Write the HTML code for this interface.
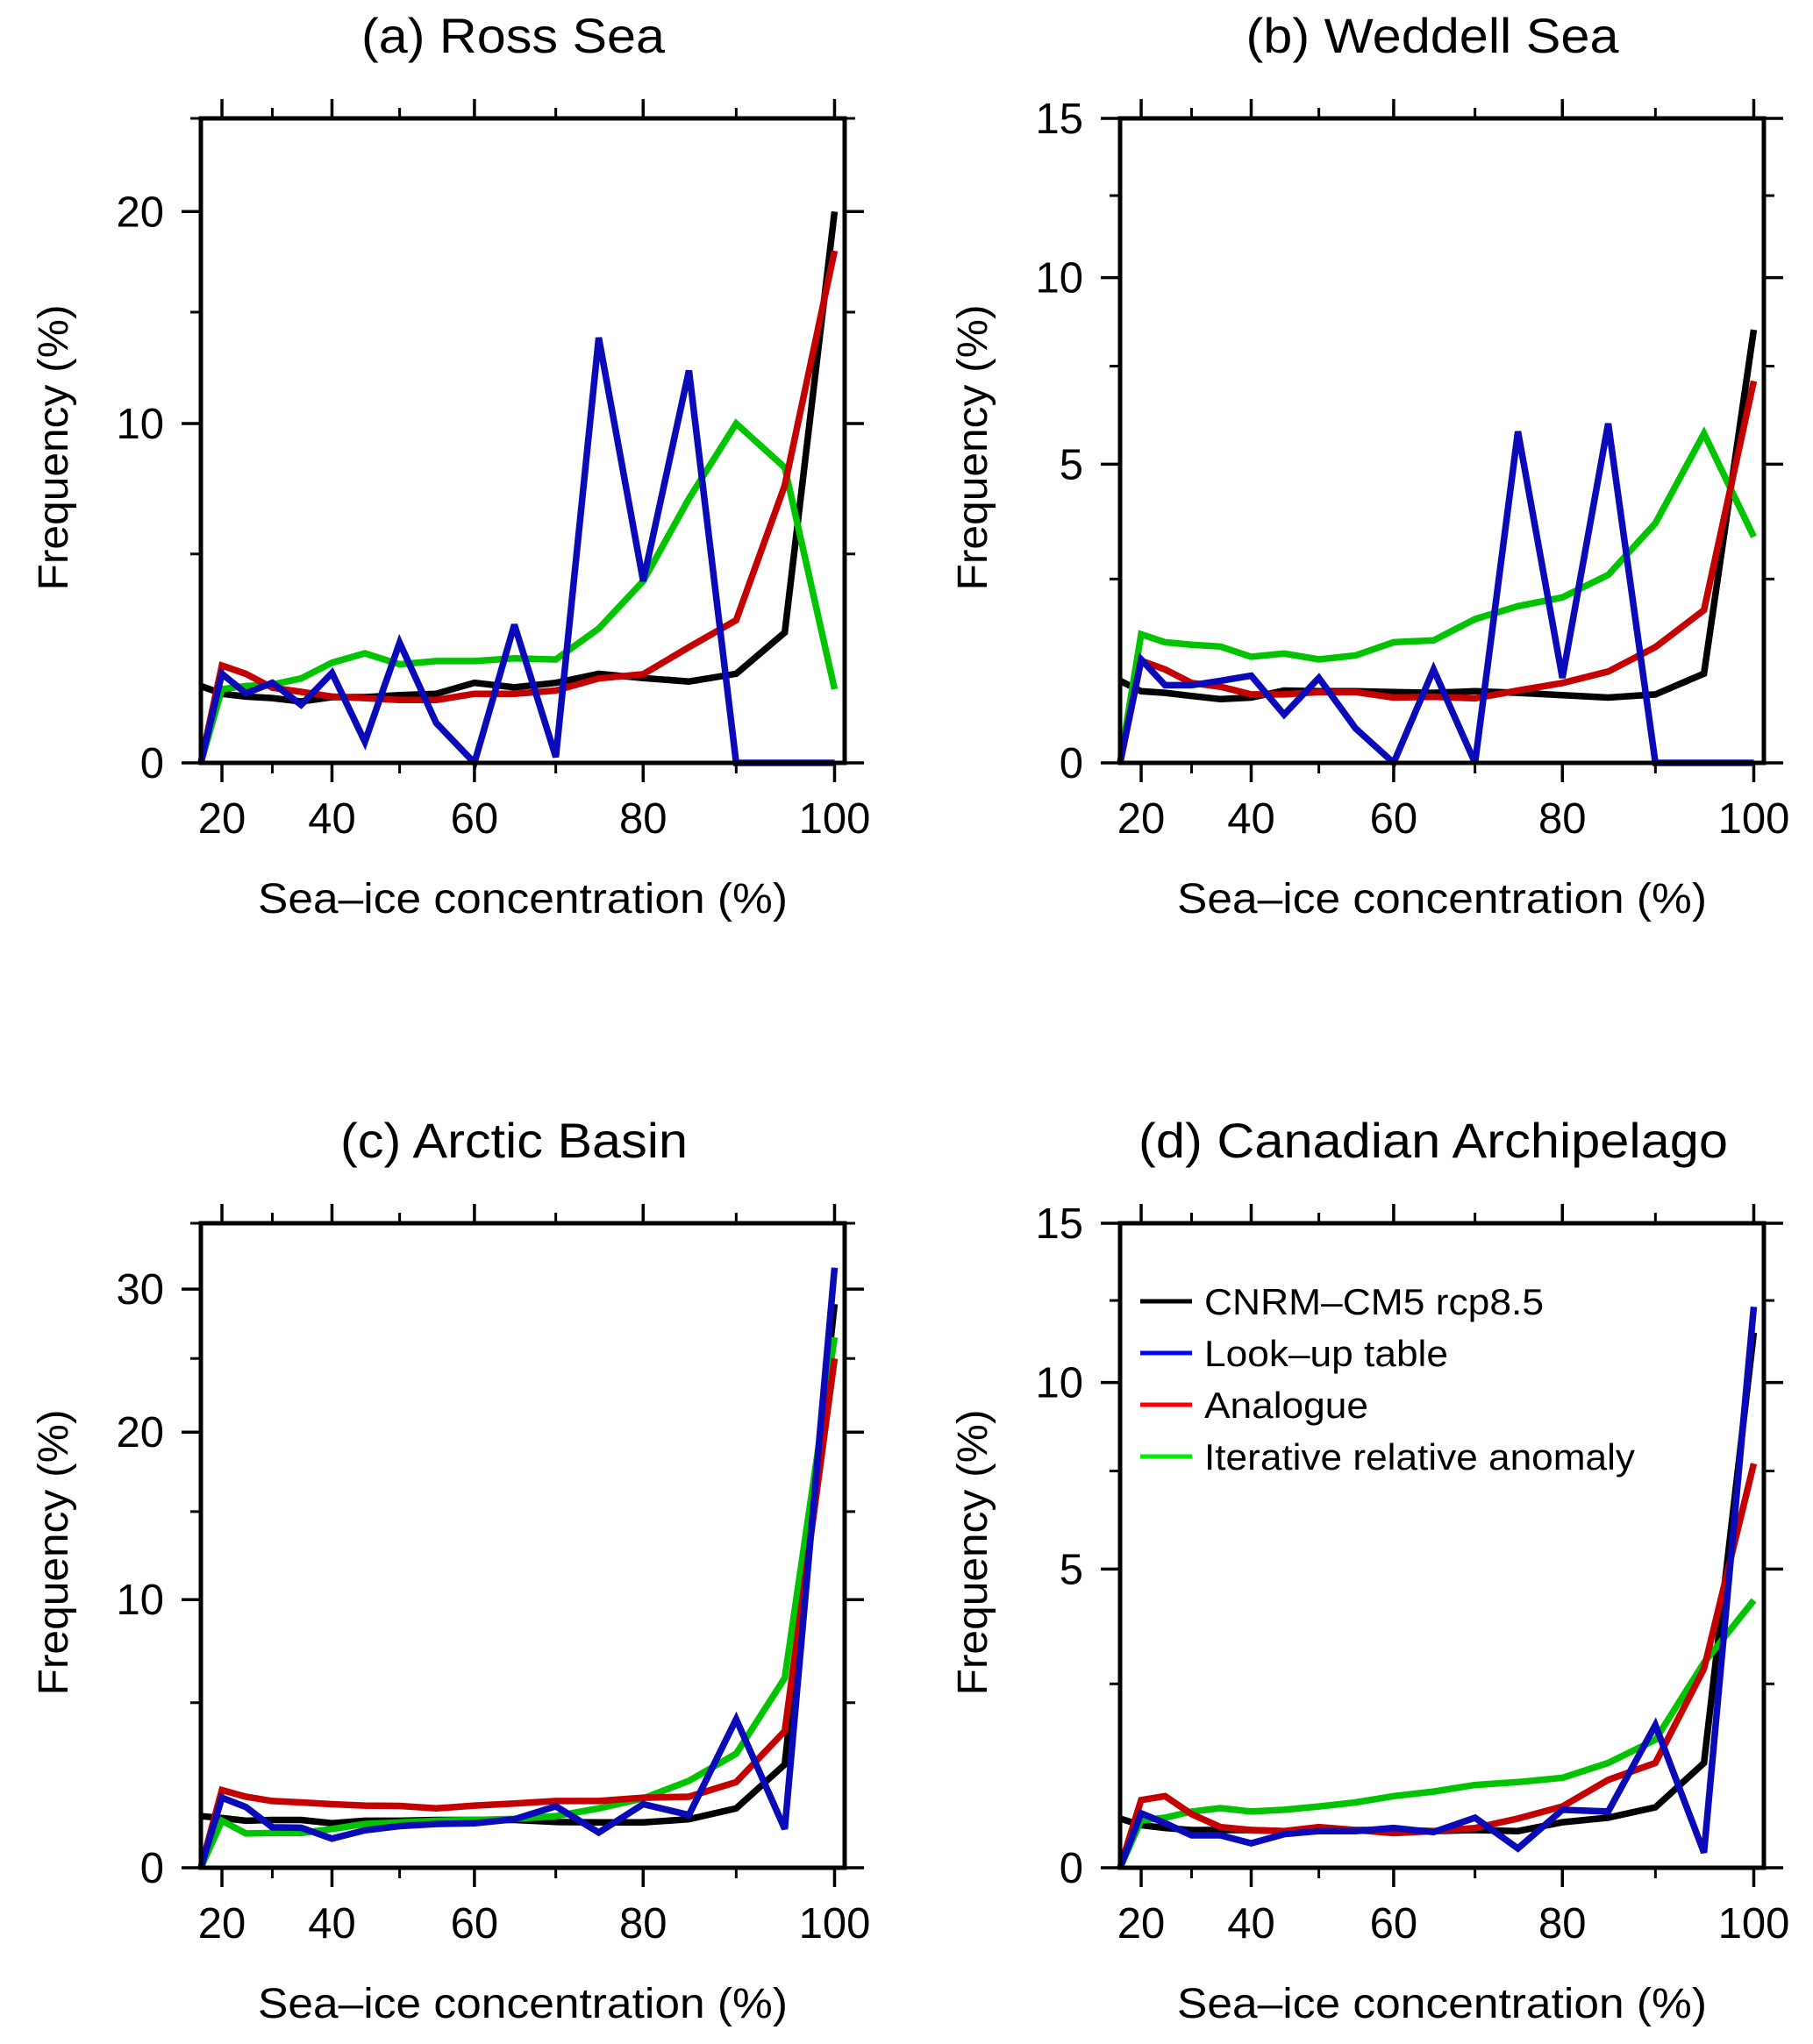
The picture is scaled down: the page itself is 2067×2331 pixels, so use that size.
<!DOCTYPE html>
<html><head><meta charset="utf-8"><style>
html,body{margin:0;padding:0;background:#fff;}
svg{display:block;font-family:"Liberation Sans",sans-serif;}
</style></head><body>
<svg id="fig" width="2067" height="2331" viewBox="0 0 2067 2331" xmlns="http://www.w3.org/2000/svg"></svg>
<script>
const xCats = [15,20,25,30,35,40,45,50,55,60,65,70,75,80,85,90,95,100];
const xTickLabels = [20,40,60,80,100];
const xMinorTicks = [30,50,70,90];

const rossBlack = [1.2,1.03,0.97,0.94,0.87,0.96,0.96,1.0,1.03,1.27,1.17,1.27,1.48,1.38,1.3,1.48,2.55,20];
const rossBlue  = [0,1.48,1.04,1.27,0.8,1.5,0.19,2.27,0.47,0,2.77,0.03,13.8,4.1,12.3,0,0,0];
const rossRed   = [0,1.68,1.48,1.16,1.07,0.97,0.94,0.9,0.9,1.03,1.03,1.1,1.37,1.47,2.15,2.9,7.5,18];
const rossGreen = [0,1.13,1.2,1.23,1.37,1.75,1.99,1.71,1.79,1.79,1.86,1.83,2.66,4.1,7.0,10,8.2,1.13];
const rossYTicks = [0,10,20];
const rossYMinor = [5,15,25];

const weddBlack = [0.79,0.65,0.63,0.59,0.55,0.57,0.66,0.65,0.65,0.64,0.63,0.65,0.63,0.6,0.57,0.61,0.89,8.5];
const weddBlue  = [0,1.1,0.73,0.73,0.79,0.86,0.37,0.83,0.23,0,0.95,0,5.8,0.83,6.0,0,0,0];
const weddRed   = [0,1.08,0.95,0.76,0.71,0.61,0.61,0.64,0.64,0.57,0.58,0.56,0.66,0.76,0.92,1.29,1.92,7.1];
const weddGreen = [0,1.5,1.37,1.33,1.3,1.14,1.19,1.1,1.16,1.37,1.4,1.76,1.99,2.15,2.58,3.65,5.75,3.36];
const weddYTicks = [0,5,10,15];
const weddYMinor = [2.5,7.5,12.5];

const arcBlack = [0.95,0.9,0.83,0.85,0.85,0.77,0.83,0.83,0.85,0.85,0.85,0.8,0.79,0.79,0.87,1.16,2.56,28.9];
const arcBlue  = [0,1.47,1.2,0.67,0.66,0.42,0.6,0.7,0.75,0.77,0.87,1.22,0.55,1.28,0.98,4.3,0.63,31.6];
const arcRed   = [0,1.7,1.5,1.37,1.33,1.28,1.24,1.23,1.16,1.24,1.3,1.37,1.37,1.47,1.5,1.96,3.82,25];
const arcGreen = [0,0.83,0.53,0.54,0.54,0.63,0.75,0.79,0.83,0.85,0.88,0.95,1.16,1.45,2.0,2.95,6.1,26.5];
const arcYTicks = [0,10,20,30];
const arcYMinor = [5,15,25,35];

const canBlack = [0.38,0.31,0.28,0.26,0.26,0.26,0.25,0.25,0.26,0.26,0.25,0.26,0.25,0.34,0.39,0.51,1.12,11.5];
const canBlue  = [0,0.44,0.33,0.21,0.21,0.14,0.22,0.25,0.25,0.28,0.24,0.39,0.1,0.48,0.46,1.74,0.07,12.3];
const canRed   = [0,0.6,0.65,0.43,0.29,0.26,0.25,0.29,0.26,0.23,0.25,0.28,0.38,0.52,0.87,1.12,2.8,7.7];
const canGreen = [0,0.36,0.39,0.46,0.5,0.46,0.48,0.52,0.57,0.65,0.71,0.8,0.84,0.9,1.12,1.49,2.92,4.27];
const canYTicks = [0,5,10,15];
const canYMinor = [2.5,7.5,12.5];

const legendLabels = ["CNRM\u2013CM5 rcp8.5","Look\u2013up table","Analogue","Iterative relative anomaly"];
const legendWidths = [387,278,187,491];

const NS="http://www.w3.org/2000/svg";
const svg=document.getElementById('fig');
function mk(tag,attrs,parent){const e=document.createElementNS(NS,tag);for(const k in attrs)e.setAttribute(k,attrs[k]);(parent||svg).appendChild(e);return e;}

const COLORS={black:"#000000",blue:"#0a0ab8",red:"#c40000",green:"#00c400"};
const LEGCOL=["#000000","#0000ff","#ff0000","#00ee00"];

function panel(cfg){
  const g=mk('g',{});
  
  
  const L=cfg.left,R=cfg.left+734,T=cfg.top,B=cfg.top+735;
  const X0=Math.pow(15,1.5),X1=Math.pow(101,1.5);
  const xs=v=>L+(Math.pow(v,1.5)-X0)/(X1-X0)*(R-L);
  const ys=v=>B-Math.pow(v,0.7)/Math.pow(cfg.ymax,0.7)*(B-T);
  const series=[["black",cfg.black],["green",cfg.green],["red",cfg.red],["blue",cfg.blue]];
  for(const [c,arr] of series){
    const pts=arr.map((v,i)=>xs(xCats[i]).toFixed(1)+","+ys(v).toFixed(1)).join(" ");
    const pl=mk('polyline',{points:pts,fill:"none",stroke:COLORS[c],"stroke-width":7.5,"stroke-linejoin":"miter","stroke-miterlimit":3},g);
    
    
  }
  const fr=mk('rect',{x:L,y:T,width:R-L,height:B-T,fill:"none",stroke:"#000","stroke-width":5},g);
  
  
  for(const t of xTickLabels){
    const x=xs(t);
    mk('line',{x1:x,y1:T,x2:x,y2:T-22,stroke:"#000","stroke-width":3.5},g);
    mk('line',{x1:x,y1:B,x2:x,y2:B+22,stroke:"#000","stroke-width":3.5},g);
    const tx=mk('text',{x:x,y:B+80,"font-size":49,"text-anchor":"middle"},g);
    tx.textContent=t;
    
    
  }
  for(const t of xMinorTicks){
    const x=xs(t);
    mk('line',{x1:x,y1:T,x2:x,y2:T-12,stroke:"#000","stroke-width":3},g);
    mk('line',{x1:x,y1:B,x2:x,y2:B+12,stroke:"#000","stroke-width":3},g);
  }
  for(const t of cfg.yTicks){
    const y=ys(t);
    mk('line',{x1:L,y1:y,x2:L-22,y2:y,stroke:"#000","stroke-width":3.5},g);
    mk('line',{x1:R,y1:y,x2:R+22,y2:y,stroke:"#000","stroke-width":3.5},g);
    const ty=mk('text',{x:L-42,y:y+17,"font-size":49,"text-anchor":"end"},g);
    ty.textContent=t;
    
    
  }
  for(const t of cfg.yMinor){
    if(t>cfg.ymax)continue;
    const y=ys(t);
    mk('line',{x1:L,y1:y,x2:L-12,y2:y,stroke:"#000","stroke-width":3},g);
    mk('line',{x1:R,y1:y,x2:R+12,y2:y,stroke:"#000","stroke-width":3},g);
  }
  const title=mk('text',{x:cfg.titleX,y:T-75,"font-size":56,"text-anchor":"middle",textLength:cfg.titleW,lengthAdjust:"spacingAndGlyphs"},g);
  title.textContent=cfg.title;
  
  
  const xt=mk('text',{x:(L+R)/2,y:B+171,"font-size":48,"text-anchor":"middle",textLength:604,lengthAdjust:"spacingAndGlyphs"},g);
  xt.textContent="Sea\u2013ice concentration (%)";
  
  
  const cy=(T+B)/2+8, cx=L-152;
  const yt=mk('text',{x:cx,y:cy,"font-size":48,"text-anchor":"middle",textLength:326,lengthAdjust:"spacingAndGlyphs",transform:`rotate(-90 ${cx} ${cy})`},g);
  yt.textContent="Frequency (%)";
  
  
  if(cfg.legend){
    const lg=mk('g',{},g);
    
    
    legendLabels.forEach((lab,i)=>{
      const y=1484+i*59;
      const ln=mk('line',{x1:1300,y1:y,x2:1359,y2:y,stroke:LEGCOL[i],"stroke-width":5},lg);
      
      
      const t=mk('text',{x:1373,y:y+15,"font-size":42,textLength:legendWidths[i],lengthAdjust:"spacingAndGlyphs"},lg);
      t.textContent=lab;
      
      
    });
  }
}
panel({name:'panel-ross-sea',title:'(a) Ross Sea',titleX:585,titleW:346,left:229,top:135,ymax:25,yTicks:rossYTicks,yMinor:rossYMinor,black:rossBlack,blue:rossBlue,red:rossRed,green:rossGreen});
panel({name:'panel-weddell-sea',title:'(b) Weddell Sea',titleX:1633,titleW:425,left:1277,top:135,ymax:15,yTicks:weddYTicks,yMinor:weddYMinor,black:weddBlack,blue:weddBlue,red:weddRed,green:weddGreen});
panel({name:'panel-arctic-basin',title:'(c) Arctic Basin',titleX:586,titleW:396,left:229,top:1395,ymax:35,yTicks:arcYTicks,yMinor:arcYMinor,black:arcBlack,blue:arcBlue,red:arcRed,green:arcGreen});
panel({name:'panel-canadian-archipelago',title:'(d) Canadian Archipelago',titleX:1634,titleW:672,left:1277,top:1395,ymax:15,yTicks:canYTicks,yMinor:canYMinor,black:canBlack,blue:canBlue,red:canRed,green:canGreen,legend:true});
</script>
</body></html>
